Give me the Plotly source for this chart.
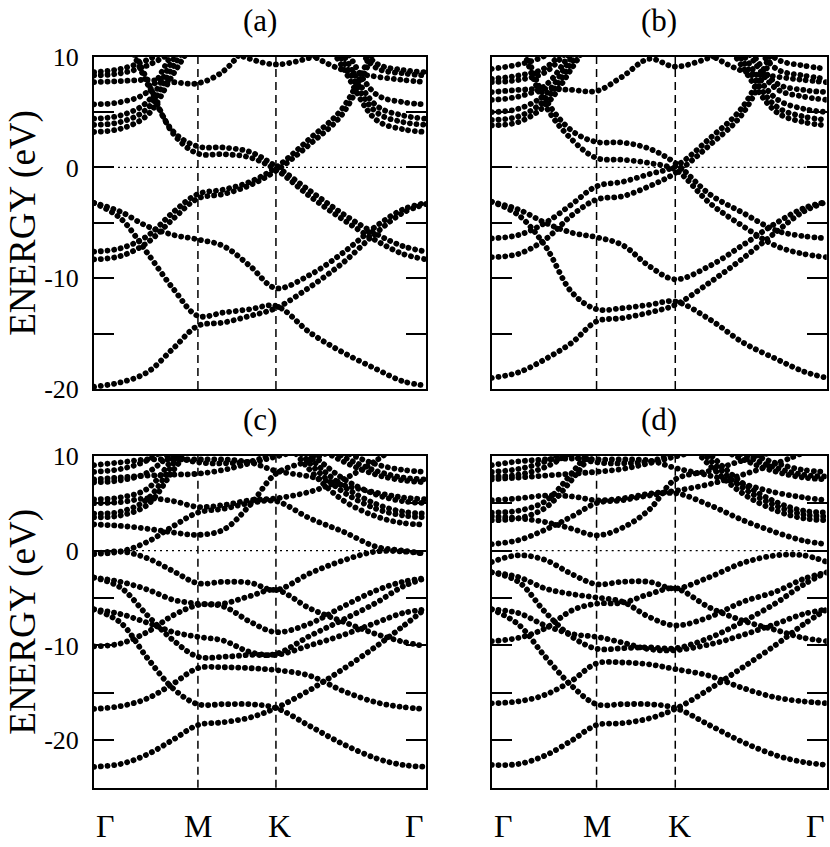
import plotly.graph_objects as go

# k path Gamma - M - K - Gamma (fraction of the panel width)
k_nodes = [0, 0.08, 0.16, 0.24, 0.313, 0.39, 0.47, 0.548, 0.65, 0.75, 0.85, 0.93, 1.0]
k_M, k_K = 0.313, 0.548
k_labels = ["\u0393", "M", "K", "\u0393"]
_ = None

# energies (eV) of each band at the k nodes
bands_a = [
    [-19.8, -19.4, -18.5, -16.3, -14.3, -14.0, -13.4, -12.7, -10.8, -8.6, -5.9, -4.1, -3.3],
    [-3.2, -4.0, -5.3, -6.1, -6.5, -7.1, -8.9, -10.9, -9.7, -7.7, -5.3, -3.8, -3.2],
    [-3.2, -4.6, -7.7, -11.0, -13.4, -13.1, -12.8, -12.5, -14.9, -16.7, -18.2, -19.3, -19.7],
    [-7.6, -7.3, -6.2, -4.0, -2.4, -2.0, -1.3, 0.0, 2.6, 5.4, 11.5, _, _],
    [-8.3, -8.0, -6.8, -4.6, -2.8, -2.4, -1.6, -0.3, 2.1, 4.9, 11.0, _, _],
    [_, 13.0, 7.6, 3.2, 1.9, 1.8, 1.4, 0.1, -2.1, -4.2, -6.0, -7.1, -7.6],
    [_, 13.5, 7.9, 3.0, 1.25, 1.2, 0.9, -0.2, -2.6, -4.7, -6.6, -7.8, -8.3],
    [7.7, 7.8, 7.9, 7.7, 7.6, 8.7, 11.5, _, _, _, _, _, _],
    [3.2, 3.5, 4.7, 8.5, 12.0, _, _, _, _, _, _, _, _],
    [3.85, 4.1, 5.3, 9.2, 12.5, _, _, _, _, _, _, _, _],
    [4.4, 4.7, 5.9, 9.8, 13.0, _, _, _, _, _, _, _, _],
    [5.7, 5.9, 6.8, 10.5, 13.5, _, _, _, _, _, _, _, _],
    [8.3, 8.5, 9.2, 10.5, 12.0, _, _, _, _, _, _, _, _],
    [8.6, 8.9, 9.7, 11.0, 13.0, _, _, _, _, _, _, _, _],
    [_, _, _, _, 12.5, 10.8, 9.8, 9.3, 9.9, 11.0, _, _, _],
    [_, _, _, _, _, _, _, _, 14.0, 9.0, 4.3, 3.45, 3.2],
    [_, _, _, _, _, _, _, _, 14.5, 9.6, 5.0, 4.1, 3.85],
    [_, _, _, _, _, _, _, _, 15.0, 10.2, 5.6, 4.7, 4.4],
    [_, _, _, _, _, _, _, _, 15.0, 11.0, 6.6, 5.9, 5.7],
    [_, _, _, _, _, _, _, 12.0, 10.2, 8.8, 8.2, 7.9, 7.7],
    [_, _, _, _, _, _, _, _, 15.0, 12.5, 9.0, 8.5, 8.3],
    [_, _, _, _, _, _, _, _, 15.0, 13.0, 9.4, 8.8, 8.6],
]

bands_b = [
    [-19.0, -18.5, -17.3, -15.8, -13.9, -13.6, -13.1, -12.4, -10.4, -8.2, -5.8, -4.0, -3.1],
    [-3.1, -3.8, -5.0, -5.9, -6.3, -7.0, -8.9, -10.1, -8.9, -7.0, -5.0, -3.7, -3.1],
    [-3.1, -4.3, -7.1, -11.3, -12.8, -12.7, -12.4, -12.1, -13.7, -15.8, -17.3, -18.4, -19.0],
    [-6.4, -6.1, -5.0, -3.3, -1.7, -1.3, -0.6, 0.1, 2.6, 5.5, 11.5, _, _],
    [-8.1, -7.8, -6.5, -4.3, -2.9, -2.6, -1.7, -0.5, 2.0, 4.9, 11.0, _, _],
    [_, 12.5, 6.2, 3.3, 2.3, 2.25, 1.7, 0.4, -2.4, -4.1, -5.7, -6.2, -6.4],
    [_, 12.0, 5.6, 2.5, 0.85, 0.7, 0.4, -0.2, -3.2, -5.3, -7.1, -7.8, -8.1],
    [6.8, 7.0, 7.1, 7.0, 6.9, 8.2, 9.8, 9.1, 9.9, 11.0, _, _, _],
    [3.8, 4.1, 5.6, 9.0, 12.5, _, _, _, _, _, _, _, _],
    [4.3, 4.6, 6.1, 9.5, 13.0, _, _, _, _, _, _, _, _],
    [5.0, 5.3, 6.6, 10.0, 13.0, _, _, _, _, _, _, _, _],
    [6.1, 6.4, 7.4, 10.5, 13.5, _, _, _, _, _, _, _, _],
    [7.7, 7.9, 8.6, 11.0, 13.5, _, _, _, _, _, _, _, _],
    [8.0, 8.3, 9.0, 11.5, 14.0, _, _, _, _, _, _, _, _],
    [8.9, 9.3, 10.1, 12.0, 14.0, _, _, _, _, _, _, _, _],
    [_, _, _, _, _, _, _, _, 14.0, 9.0, 5.0, 4.1, 3.8],
    [_, _, _, _, _, _, _, _, 14.5, 9.6, 5.5, 4.6, 4.3],
    [_, _, _, _, _, _, _, _, 15.0, 10.2, 6.2, 5.3, 5.0],
    [_, _, _, _, _, _, _, _, 15.0, 11.0, 7.1, 6.4, 6.1],
    [_, _, _, _, _, _, _, _, 15.0, 11.5, 7.6, 7.0, 6.8],
    [_, _, _, _, _, _, _, 12.0, 10.2, 8.7, 8.2, 7.9, 7.7],
    [_, _, _, _, _, _, _, _, 15.0, 12.5, 8.9, 8.3, 8.0],
    [_, _, _, _, _, _, _, _, 15.0, 13.0, 9.8, 9.2, 8.9],
]

bands_c = [
    [-22.8, -22.5, -21.5, -19.9, -18.4, -18.1, -17.6, -16.6, -14.7, -12.5, -10.1, -8.0, -6.1],
    [-0.35, -0.1, -0.8, -2.2, -3.45, -3.3, -3.4, -4.15, -2.4, -1.05, -0.1, -0.1, -0.35],
    [-2.85, -3.3, -4.1, -5.2, -5.6, -5.9, -7.5, -8.6, -7.7, -5.9, -4.2, -3.3, -2.9],
    [-2.85, -3.9, -6.8, -9.5, -11.2, -11.2, -11.0, -10.9, -9.0, -7.3, -5.5, -3.8, -2.9],
    [-6.2, -7.6, -11.3, -14.6, -16.2, -16.2, -16.2, -16.6, -18.5, -20.4, -21.9, -22.6, -22.8],
    [-16.7, -16.4, -15.6, -14.0, -12.4, -12.3, -12.4, -12.6, -13.2, -14.8, -16.0, -16.5, -16.7],
    [-10.1, -9.8, -8.6, -6.8, -5.75, -5.6, -4.8, -4.15, -6.1, -7.5, -8.8, -9.6, -10.1],
    [-6.2, -6.7, -7.6, -8.6, -9.1, -9.5, -10.7, -11.0, -10.0, -8.9, -7.6, -6.6, -6.2],
    [-0.35, -0.1, 0.9, 2.6, 4.0, 4.4, 5.0, 5.2, 3.4, 2.0, 0.4, 0.0, -0.35],
    [5.0, 5.1, 5.5, 5.2, 4.6, 4.8, 5.3, 5.5, 6.2, 7.5, 9.5, 11.5, _],
    [2.75, 2.6, 2.3, 1.9, 1.65, 2.2, 4.8, 8.1, 9.5, 11.0, _, _, _],
    [7.5, 7.7, 7.9, 8.0, 8.1, 8.5, 9.2, 9.9, 10.8, _, _, _, _],
    [9.0, 9.3, 9.6, 9.6, 9.6, 9.6, 9.3, 8.4, 7.8, 6.9, 6.1, 5.6, 5.4],
    [_, _, 10.6, 9.9, 9.3, 9.2, 9.4, 10.2, 11.0, _, _, _, _],
    [3.5, 3.7, 4.8, 8.5, 12.0, _, _, _, _, _, _, _, _],
    [3.9, 4.1, 5.4, 9.2, 12.5, _, _, _, _, _, _, _, _],
    [5.4, 5.6, 6.5, 9.8, 13.0, _, _, _, _, _, _, _, _],
    [7.2, 7.4, 8.2, 10.5, 13.0, _, _, _, _, _, _, _, _],
    [8.3, 8.6, 9.5, 11.5, 14.0, _, _, _, _, _, _, _, _],
    [_, _, _, _, _, _, _, 13.0, 8.5, 5.3, 3.6, 2.9, 2.75],
    [_, _, _, _, _, _, _, 13.5, 9.2, 6.2, 4.4, 3.7, 3.5],
    [_, _, _, _, _, _, _, 14.0, 9.8, 6.8, 4.9, 4.1, 3.9],
    [_, _, _, _, _, _, _, 14.0, 10.4, 7.6, 5.9, 5.2, 5.0],
    [_, _, _, _, _, _, _, 15.0, 11.5, 9.4, 8.0, 7.4, 7.2],
    [_, _, _, _, _, _, _, 15.0, 12.0, 9.9, 8.4, 7.7, 7.5],
    [_, _, _, _, _, _, _, 15.0, 12.5, 10.5, 9.1, 8.5, 8.3],
]

bands_d = [
    [-22.6, -22.5, -21.6, -20.0, -18.4, -18.2, -17.7, -16.7, -14.6, -12.3, -9.9, -7.8, -6.2],
    [-1.2, -0.5, -1.0, -2.5, -3.55, -3.3, -3.3, -4.0, -2.8, -1.3, -0.5, -0.5, -1.2],
    [-2.3, -2.8, -4.0, -4.6, -4.95, -5.4, -7.0, -7.9, -7.0, -5.4, -4.3, -3.0, -2.3],
    [-2.3, -3.3, -6.5, -9.1, -10.35, -10.3, -10.2, -10.3, -9.2, -7.5, -5.5, -3.6, -2.3],
    [-6.2, -7.8, -11.2, -14.3, -16.2, -16.2, -16.2, -16.6, -18.4, -20.2, -21.6, -22.3, -22.6],
    [-16.1, -15.9, -15.2, -13.7, -11.9, -11.8, -12.0, -12.5, -13.2, -14.5, -15.5, -15.9, -16.1],
    [-9.55, -9.2, -8.2, -6.3, -5.6, -5.5, -4.6, -4.0, -6.0, -7.4, -8.4, -9.2, -9.55],
    [-6.2, -6.6, -7.9, -8.8, -9.1, -9.7, -10.4, -10.5, -9.9, -8.9, -7.7, -6.7, -6.2],
    [0.67, 1.1, 2.2, 3.6, 5.0, 5.3, 5.8, 6.05, 4.8, 3.2, 1.9, 1.05, 0.67],
    [3.6, 3.4, 3.0, 2.3, 1.6, 2.4, 4.3, 7.5, 8.4, 9.5, 10.5, _, _],
    [5.3, 5.5, 5.8, 5.7, 5.3, 5.5, 6.0, 6.3, 7.0, 8.0, 9.2, 10.3, _],
    [7.5, 7.7, 7.9, 8.1, 8.3, 8.6, 9.2, 9.9, 10.8, _, _, _, _],
    [9.0, 9.4, 9.6, 9.7, 9.6, 9.6, 9.5, 8.7, 7.9, 7.0, 6.1, 5.6, 5.3],
    [_, _, 10.6, 9.9, 9.3, 9.2, 9.4, 10.2, 11.0, _, _, _, _],
    [3.2, 3.4, 4.5, 7.5, 11.0, _, _, _, _, _, _, _, _],
    [4.0, 4.2, 5.2, 8.2, 11.5, _, _, _, _, _, _, _, _],
    [7.8, 8.0, 8.8, 10.5, 13.0, _, _, _, _, _, _, _, _],
    [8.3, 8.6, 9.4, 11.0, 13.5, _, _, _, _, _, _, _, _],
    [_, _, _, _, _, _, _, 13.0, 9.0, 6.0, 4.2, 3.4, 3.2],
    [_, _, _, _, _, _, _, 13.5, 9.6, 6.6, 4.7, 3.8, 3.6],
    [_, _, _, _, _, _, _, 14.0, 10.2, 7.1, 5.1, 4.2, 4.0],
    [_, _, _, _, _, _, _, 15.0, 11.5, 9.6, 8.3, 7.7, 7.5],
    [_, _, _, _, _, _, _, 15.0, 12.0, 10.1, 8.7, 8.0, 7.8],
    [_, _, _, _, _, _, _, 15.0, 12.5, 10.6, 9.2, 8.5, 8.3],
]

panel_titles = ["(a)", "(b)", "(c)", "(d)"]
panel_bands = [bands_a, bands_b, bands_c, bands_d]
y_ranges = [(-20, 10), (-20, 10), (-25, 10), (-25, 10)]

W, H = 830, 847
x_doms = [(94 / W, 426 / W), (491.7 / W, 826.7 / W)]
y_doms = [(1 - 389 / H, 1 - 56.7 / H), (1 - 787.7 / H, 1 - 455.7 / H)]

SERIF = "Liberation Serif, Times New Roman, serif"

fig = go.Figure()
shapes = []
annotations = []

for i, (title, bands, yr) in enumerate(zip(panel_titles, panel_bands, y_ranges)):
    n = "" if i == 0 else str(i + 1)
    xa, ya = "x" + n, "y" + n
    col, row = i % 2, i // 2

    for band in bands:
        fig.add_trace(go.Scatter(
            x=k_nodes, y=band, mode="lines", xaxis=xa, yaxis=ya,
            line=dict(shape="spline", color="black", width=5.8, dash="3px,4px"),
            connectgaps=False, showlegend=False, hoverinfo="skip"))

    tickvals = list(range(yr[0], yr[1] + 1, 5))
    ticktext = [str(v) if v % 10 == 0 else "" for v in tickvals]

    fig.layout["xaxis" + n] = dict(
        domain=x_doms[col], anchor=ya, range=[0, 1], automargin=False,
        showline=True, mirror=True, linecolor="black", linewidth=2,
        ticks="", showticklabels=False, showgrid=False, zeroline=False)
    fig.layout["yaxis" + n] = dict(
        domain=y_doms[row], anchor=xa, range=list(yr), automargin=False,
        showline=True, mirror="ticks", linecolor="black", linewidth=2,
        ticks="inside", ticklen=20, tickwidth=1.5, tickcolor="black",
        tickvals=tickvals, ticktext=ticktext, showticklabels=(col == 0),
        ticklabelstandoff=8,
        tickfont=dict(family=SERIF, size=26, color="black"),
        showgrid=False, zeroline=False)

    # high symmetry lines and the Fermi level
    for kx in (k_M, k_K):
        shapes.append(dict(type="line", xref=xa, yref=ya + " domain",
                           x0=kx, x1=kx, y0=0, y1=1, layer="below",
                           line=dict(color="black", width=1.5, dash="8px,5px")))
    shapes.append(dict(type="line", xref=xa + " domain", yref=ya,
                       x0=0, x1=1, y0=0, y1=0, layer="below",
                       line=dict(color="black", width=1.3, dash="2px,4px")))

    annotations.append(dict(
        text=title, xref=xa + " domain", yref="paper", x=0.5,
        y=y_doms[row][1] + 36 / H, yanchor="middle", showarrow=False,
        font=dict(family=SERIF, size=31, color="black")))

    if col == 0:
        annotations.append(dict(
            text="ENERGY (eV)", xref="paper", yref=ya + " domain",
            x=23 / W, y=0.5, textangle=-90, showarrow=False,
            xanchor="center", yanchor="middle",
            font=dict(family=SERIF, size=37, color="black")))

    if row == 1:
        for lab, kx, anc in zip(k_labels, [0, k_M, k_K, 1],
                                ["left", "center", "center", "right"]):
            annotations.append(dict(
                text=lab, xref=xa, yref="paper", x=kx, y=21 / H,
                xanchor=anc, yanchor="middle", showarrow=False,
                xshift=4 if lab == "K" else 0,
                font=dict(family=SERIF, size=32, color="black")))

fig.update_layout(
    width=W, height=H,
    margin=dict(l=0, r=0, t=0, b=0, autoexpand=False),
    paper_bgcolor="white", plot_bgcolor="white",
    shapes=shapes, annotations=annotations)

# page without body margin; round dash ends so band lines read as dots
dots_js = """
document.body.style.margin = '0';
document.body.style.overflow = 'hidden';
var gd = document.getElementById('{plot_id}');
function roundDots() {
  gd.querySelectorAll('.scatterlayer .js-line').forEach(function (p) {
    p.style.strokeLinecap = 'round';
    p.style.strokeDasharray = '0.1px, 6.6px';
  });
}
roundDots();
gd.on('plotly_afterplot', roundDots);
"""

fig.write_html("out.html", post_script=dots_js, config={"displayModeBar": False})
